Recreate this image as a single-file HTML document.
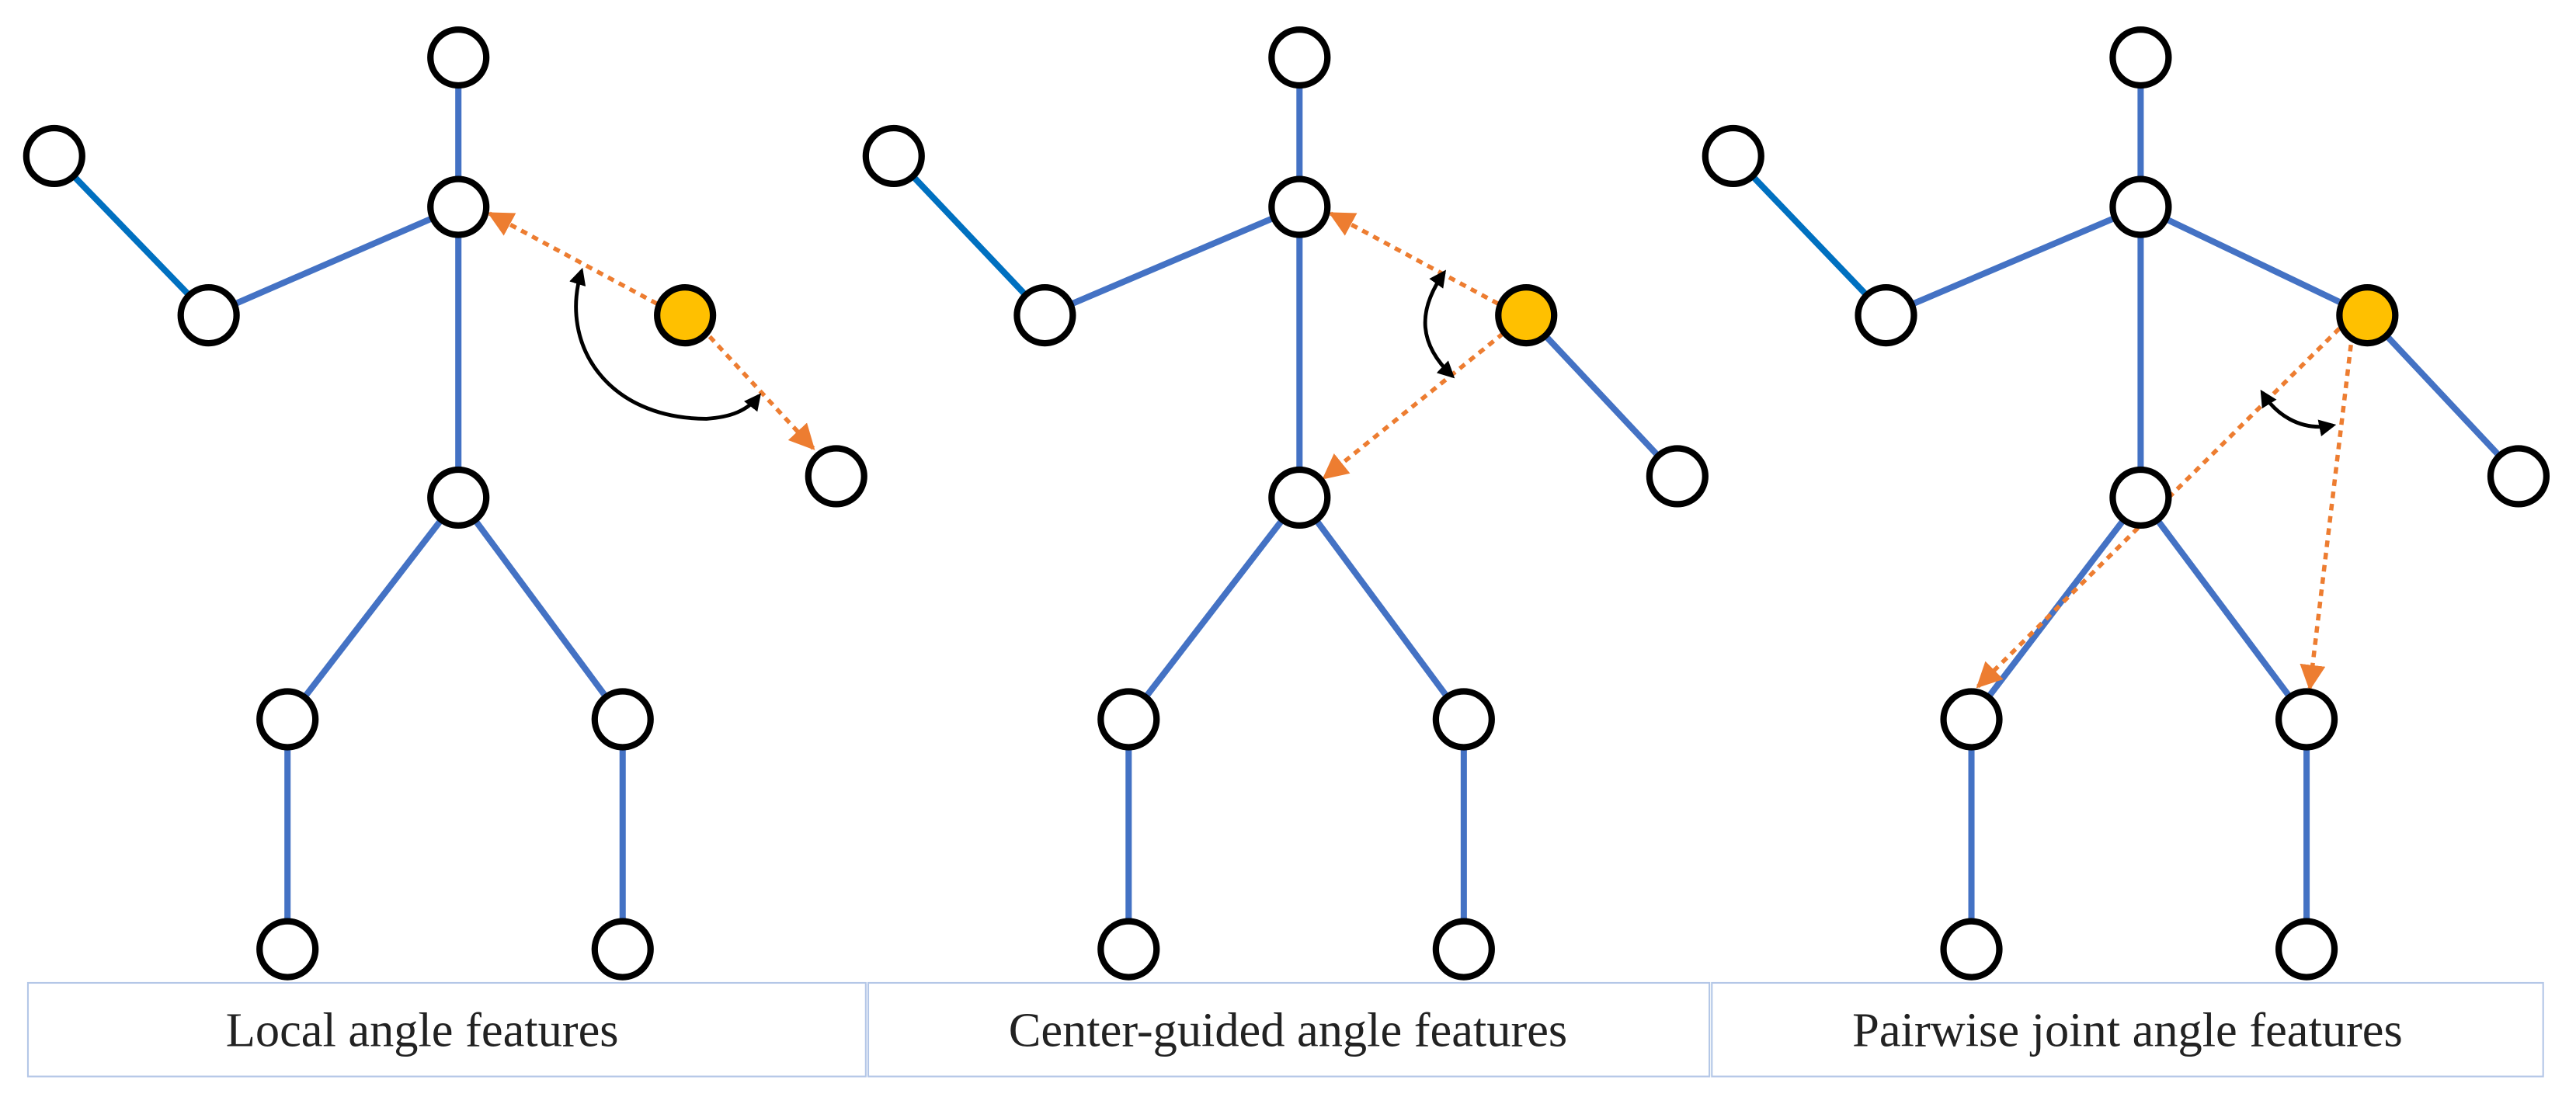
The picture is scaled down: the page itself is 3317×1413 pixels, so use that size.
<!DOCTYPE html>
<html><head><meta charset="utf-8"><style>
html,body{margin:0;padding:0;background:#fff;}
svg{display:block;}
</style></head><body>
<svg width="3317" height="1413" viewBox="0 0 1568 668" preserveAspectRatio="none" xmlns="http://www.w3.org/2000/svg">
<defs>
<marker id="oa" viewBox="0 0 10 10" refX="9" refY="5" markerWidth="6" markerHeight="6" orient="auto" markerUnits="strokeWidth"><path d="M0,0 L10,5 L0,10 z" fill="#ED7D31"/></marker>
<marker id="ba" viewBox="0 0 10 10" refX="8" refY="5" markerWidth="4.5" markerHeight="4.5" orient="auto-start-reverse" markerUnits="strokeWidth"><path d="M0,0 L10,5 L0,10 z" fill="#000"/></marker>
</defs>
<g stroke="#4472C4" stroke-width="3.8" fill="none">
<line x1="279" y1="35" x2="279" y2="303"/>
<line x1="127" y1="192" x2="279" y2="126"/>
<line x1="279" y1="303" x2="175" y2="438"/>
<line x1="279" y1="303" x2="379" y2="438"/>
<line x1="175" y1="438" x2="175" y2="578"/>
<line x1="379" y1="438" x2="379" y2="578"/>
<line x1="791" y1="35" x2="791" y2="303"/>
<line x1="636" y1="192" x2="791" y2="126"/>
<line x1="791" y1="303" x2="687" y2="438"/>
<line x1="791" y1="303" x2="891" y2="438"/>
<line x1="687" y1="438" x2="687" y2="578"/>
<line x1="891" y1="438" x2="891" y2="578"/>
<line x1="929" y1="192" x2="1021" y2="290"/>
<line x1="1303" y1="35" x2="1303" y2="303"/>
<line x1="1148" y1="192" x2="1303" y2="126"/>
<line x1="1303" y1="126" x2="1441" y2="192"/>
<line x1="1441" y1="192" x2="1533" y2="290"/>
<line x1="1303" y1="303" x2="1200" y2="438"/>
<line x1="1303" y1="303" x2="1404" y2="438"/>
<line x1="1200" y1="438" x2="1200" y2="578"/>
<line x1="1404" y1="438" x2="1404" y2="578"/>
</g>
<g stroke="#0070C0" stroke-width="3.8">
<line x1="33" y1="95" x2="127" y2="192"/>
<line x1="544" y1="95" x2="636" y2="192"/>
<line x1="1055" y1="95" x2="1148" y2="192"/>
</g>
<g stroke="#ED7D31" stroke-width="2.6" stroke-dasharray="4,3.5" fill="none">
<line x1="400" y1="185" x2="298" y2="130" marker-end="url(#oa)"/>
<line x1="432" y1="205" x2="495" y2="273" marker-end="url(#oa)"/>
<line x1="912" y1="185" x2="810" y2="130" marker-end="url(#oa)"/>
<line x1="915" y1="203" x2="806" y2="291" marker-end="url(#oa)"/>
<line x1="1424" y1="200" x2="1204" y2="418" marker-end="url(#oa)"/>
<line x1="1431" y1="210" x2="1406" y2="419" marker-end="url(#oa)"/>
</g>
<g stroke="#000" stroke-width="2.3" fill="none">
<path d="M354,165 C340,210 370,255 430,255 C445,254 455,250 462,241" marker-start="url(#ba)" marker-end="url(#ba)"/>
<path d="M879,166 C862,190 864,210 884,229" marker-start="url(#ba)" marker-end="url(#ba)"/>
<path d="M1377,239 C1385,252 1400,263 1420,259" marker-start="url(#ba)" marker-end="url(#ba)"/>
</g>
<g stroke="#000" stroke-width="3.9" fill="#fff">
<circle cx="279" cy="35" r="17"/><circle cx="279" cy="126" r="17"/><circle cx="33" cy="95" r="17"/><circle cx="127" cy="192" r="17"/><circle cx="509" cy="290" r="17"/><circle cx="279" cy="303" r="17"/><circle cx="175" cy="438" r="17"/><circle cx="379" cy="438" r="17"/><circle cx="175" cy="578" r="17"/><circle cx="379" cy="578" r="17"/>
<circle cx="791" cy="35" r="17"/><circle cx="791" cy="126" r="17"/><circle cx="544" cy="95" r="17"/><circle cx="636" cy="192" r="17"/><circle cx="1021" cy="290" r="17"/><circle cx="791" cy="303" r="17"/><circle cx="687" cy="438" r="17"/><circle cx="891" cy="438" r="17"/><circle cx="687" cy="578" r="17"/><circle cx="891" cy="578" r="17"/>
<circle cx="1303" cy="35" r="17"/><circle cx="1303" cy="126" r="17"/><circle cx="1055" cy="95" r="17"/><circle cx="1148" cy="192" r="17"/><circle cx="1533" cy="290" r="17"/><circle cx="1303" cy="303" r="17"/><circle cx="1200" cy="438" r="17"/><circle cx="1404" cy="438" r="17"/><circle cx="1200" cy="578" r="17"/><circle cx="1404" cy="578" r="17"/>
<circle cx="417" cy="192" r="17" fill="#FFC000"/><circle cx="929" cy="192" r="17" fill="#FFC000"/><circle cx="1441" cy="192" r="17" fill="#FFC000"/>
</g>
<g fill="none" stroke="#B4C7E7" stroke-width="1">
<rect x="17" y="598.5" width="510" height="57"/>
<rect x="528.5" y="598.5" width="512" height="57"/>
<rect x="1042" y="598.5" width="506" height="57"/>
</g>
<g font-family="'Liberation Serif', serif" font-size="29.5" fill="#222" text-anchor="middle">
<text x="257" y="637">Local angle features</text>
<text x="784" y="637">Center-guided angle features</text>
<text x="1295" y="637">Pairwise joint angle features</text>
</g>
</svg>
</body></html>
